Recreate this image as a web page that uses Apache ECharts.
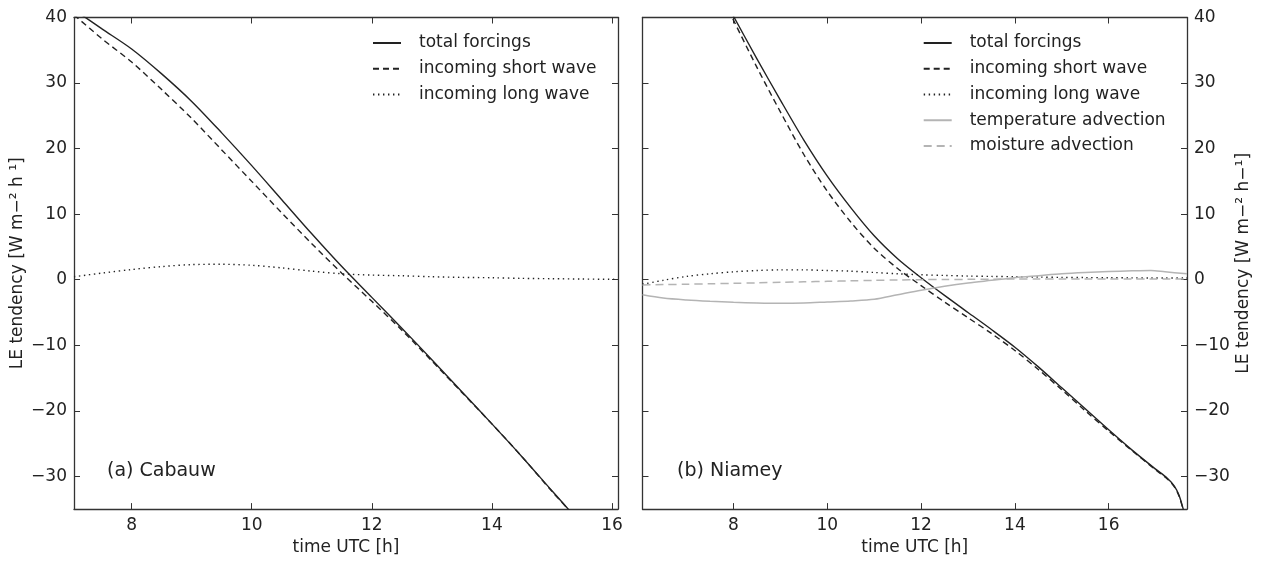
<!DOCTYPE html>
<html><head><meta charset="utf-8">
<script src="https://cdn.jsdelivr.net/npm/echarts@6/dist/echarts.min.js"></script>
<style>html,body{margin:0;padding:0;background:#fff}#c{width:1261px;height:561px}</style>
</head><body><div id="c"></div>
<script>
// ---- (a) Cabauw ----
const tTotalA = [7.04, 7.5, 8, 8.5, 9, 9.5, 10, 10.5, 11, 11.5, 12, 12.5, 13, 13.5, 14, 14.5, 15, 15.3];
const totalA  = [41.2, 38.3, 35.2, 31.4, 27.2, 22.4, 17.4, 12.2, 7.0, 2.0, -2.7, -7.4, -12.2, -17.1, -22.0, -27.0, -32.2, -35.3];
const shortA  = [40.4, 36.8, 33.2, 29.0, 24.6, 19.8, 15.0, 10.2, 5.5, 1.0, -3.3, -7.7, -12.4, -17.2, -22.0, -27.0, -32.3, -35.3];
const tLongA  = [7.04, 7.5, 8, 8.5, 9, 9.5, 10, 10.5, 11, 11.5, 12, 12.5, 13, 13.5, 14, 14.5, 15, 15.5, 16.1];
const longA   = [0.45, 1.0, 1.55, 2.0, 2.3, 2.35, 2.2, 1.8, 1.3, 0.9, 0.7, 0.6, 0.45, 0.35, 0.3, 0.2, 0.15, 0.1, 0.05];

// ---- (b) Niamey ----
const tTotalB = [7.9, 8.0, 8.5, 9.0, 9.5, 10.0, 10.5, 11.0, 11.5, 12.0, 12.5, 13.0, 13.5, 14.0, 14.5, 15.0, 15.5, 16.0, 16.5, 17.0, 17.25, 17.4, 17.5, 17.59, 17.65];
const totalB  = [41.6, 40.2, 33.7, 27.4, 21.3, 15.8, 11.0, 6.7, 3.2, 0.3, -2.4, -5.0, -7.6, -10.3, -13.3, -16.5, -19.7, -22.9, -26.0, -28.9, -30.3, -31.5, -32.9, -35.0, -36.5];
const shortB  = [41.2, 39.6, 32.4, 25.6, 19.1, 13.5, 8.8, 4.8, 1.7, -0.9, -3.4, -5.8, -8.2, -10.8, -13.7, -16.8, -20.0, -23.1, -26.1, -29.0, -30.4, -31.6, -33.0, -35.1, -36.6];
const tSmallB = [6.06, 6.5, 7.0, 7.5, 8.0, 8.5, 9.0, 9.5, 10.0, 10.5, 11.0, 11.5, 12.0, 12.5, 13.0, 13.5, 14.0, 14.5, 15.0, 15.5, 16.0, 16.5, 16.9, 17.2, 17.67];
const longB   = [-0.7, -0.1, 0.5, 0.9, 1.2, 1.4, 1.5, 1.5, 1.4, 1.3, 1.1, 0.9, 0.75, 0.65, 0.55, 0.5, 0.45, 0.4, 0.35, 0.32, 0.3, 0.28, 0.26, 0.25, 0.25];
const tempAdvB  = [-2.3, -2.8, -3.1, -3.3, -3.45, -3.55, -3.6, -3.55, -3.4, -3.25, -3.0, -2.3, -1.6, -1.0, -0.5, -0.1, 0.3, 0.6, 0.9, 1.1, 1.25, 1.35, 1.4, 1.2, 0.9];
const moistAdvB = [-0.8, -0.75, -0.7, -0.62, -0.55, -0.48, -0.4, -0.32, -0.25, -0.18, -0.1, -0.05, 0.0, 0.03, 0.05, 0.08, 0.1, 0.1, 0.1, 0.1, 0.1, 0.1, 0.1, 0.1, 0.1];

const namesA = ['total forcings', 'incoming short wave', 'incoming long wave'];
const namesB = ['total forcings', 'incoming short wave', 'incoming long wave', 'temperature advection', 'moisture advection'];
const yLabel = 'LE tendency';

const FONT = 'DejaVu Sans';
const INK = '#222';
const FRAME = '#333';
const GRAY = '#b4b4b4';

const pair = (ts, vs) => ts.map((t, i) => [t, vs[i]]);
const fmt = v => (v < 0 ? '\u2212' + (-v) : String(v));

function xAx(grid, pos, min, max, labels) {
  return {
    type: 'value', gridIndex: grid, position: pos, min: min, max: max,
    minInterval: 2, maxInterval: 2,
    splitLine: {show: false},
    axisLine: {show: true, onZero: false, lineStyle: {color: FRAME, width: 1.3}},
    axisTick: {show: true, inside: true, length: 6, lineStyle: {color: FRAME, width: 1}},
    axisLabel: {show: labels, fontFamily: FONT, fontSize: 17, color: INK, margin: 8,
      showMinLabel: false, showMaxLabel: false, formatter: fmt},
    name: labels ? 'time UTC [h]' : '', nameLocation: 'middle', nameGap: 26,
    nameTextStyle: {fontFamily: FONT, fontSize: 17, color: INK}
  };
}
function yAx(grid, pos, labels, name) {
  return {
    type: 'value', gridIndex: grid, position: pos, min: -35, max: 40,
    minInterval: 10, maxInterval: 10, splitNumber: 8,
    splitLine: {show: false},
    axisLine: {show: true, onZero: false, lineStyle: {color: FRAME, width: 1.3}},
    axisTick: {show: true, inside: true, length: 6, lineStyle: {color: FRAME, width: 1}},
    axisLabel: {show: labels, fontFamily: FONT, fontSize: 17, color: INK, margin: 7,
      showMinLabel: false, showMaxLabel: true, formatter: fmt},
    name: name || '', nameLocation: 'middle', nameGap: 48,
    nameTextStyle: {fontFamily: FONT, fontSize: 17, color: INK}
  };
}
function ser(name, xi, yi, data, color, type, width) {
  return {
    name: name, type: 'line', xAxisIndex: xi, yAxisIndex: yi, data: data,
    showSymbol: false, symbol: 'none', smooth: 0.3, clip: true, silent: true,
    lineStyle: {color: color, type: type, width: width}, itemStyle: {color: color},
    emphasis: {disabled: true}, animation: false
  };
}
function legend(left, names) {
  return {
    left: left, top: 33, orient: 'vertical', padding: 0, itemGap: 5.75,
    itemWidth: 28, itemHeight: 14, selectedMode: false, data: names,
    itemStyle: {opacity: 0, borderWidth: 0},
    textStyle: {fontFamily: FONT, fontSize: 17, color: INK, lineHeight: 20, padding: [0, 0, 0, 13]}
  };
}

const chart = echarts.init(document.getElementById('c'), null, {renderer: 'canvas'});
chart.setOption({
  animation: false,
  backgroundColor: '#fff',
  grid: [
    {left: 74, top: 17.5, width: 544, height: 499.5},
    {left: 642.5, top: 17.5, width: 544.5, height: 499.5}
  ],
  xAxis: [
    xAx(0, 'bottom', 7.04, 16.1, true), xAx(0, 'top', 7.04, 16.1, false),
    xAx(1, 'bottom', 6.06, 17.67, true), xAx(1, 'top', 6.06, 17.67, false)
  ],
  yAxis: [
    yAx(0, 'left', true, yLabel + ' [W m\u2212\u00B2 h \u00B9]'), yAx(0, 'right', false),
    yAx(1, 'left', false), yAx(1, 'right', true, yLabel + ' [W m\u2212\u00B2 h\u2212\u00B9]')
  ],
  legend: [legend(372, namesA), legend(922.7, namesB)],
  series: [
    ser(namesA[0], 0, 0, pair(tTotalA, totalA), INK, 'solid', 1.4),
    ser(namesA[1], 0, 0, pair(tTotalA, shortA), INK, [6, 4], 1.4),
    ser(namesA[2], 0, 0, pair(tLongA, longA), INK, [1.4, 3.6], 1.4),
    ser(namesB[0], 2, 2, pair(tTotalB, totalB), INK, 'solid', 1.4),
    ser(namesB[1], 2, 2, pair(tTotalB, shortB), INK, [6, 4], 1.4),
    ser(namesB[2], 2, 2, pair(tSmallB, longB), INK, [1.4, 3.6], 1.4),
    ser(namesB[3], 2, 2, pair(tSmallB, tempAdvB), GRAY, 'solid', 1.5),
    ser(namesB[4], 2, 2, pair(tSmallB, moistAdvB), GRAY, [8, 5], 1.5)
  ],
  graphic: [
    {type: 'text', left: 107, top: 462, style: {text: '(a) Cabauw', fontFamily: FONT, fontSize: 19, fill: INK}},
    {type: 'text', left: 677, top: 462, style: {text: '(b) Niamey', fontFamily: FONT, fontSize: 19, fill: INK}}
  ]
});
</script>
</body></html>
